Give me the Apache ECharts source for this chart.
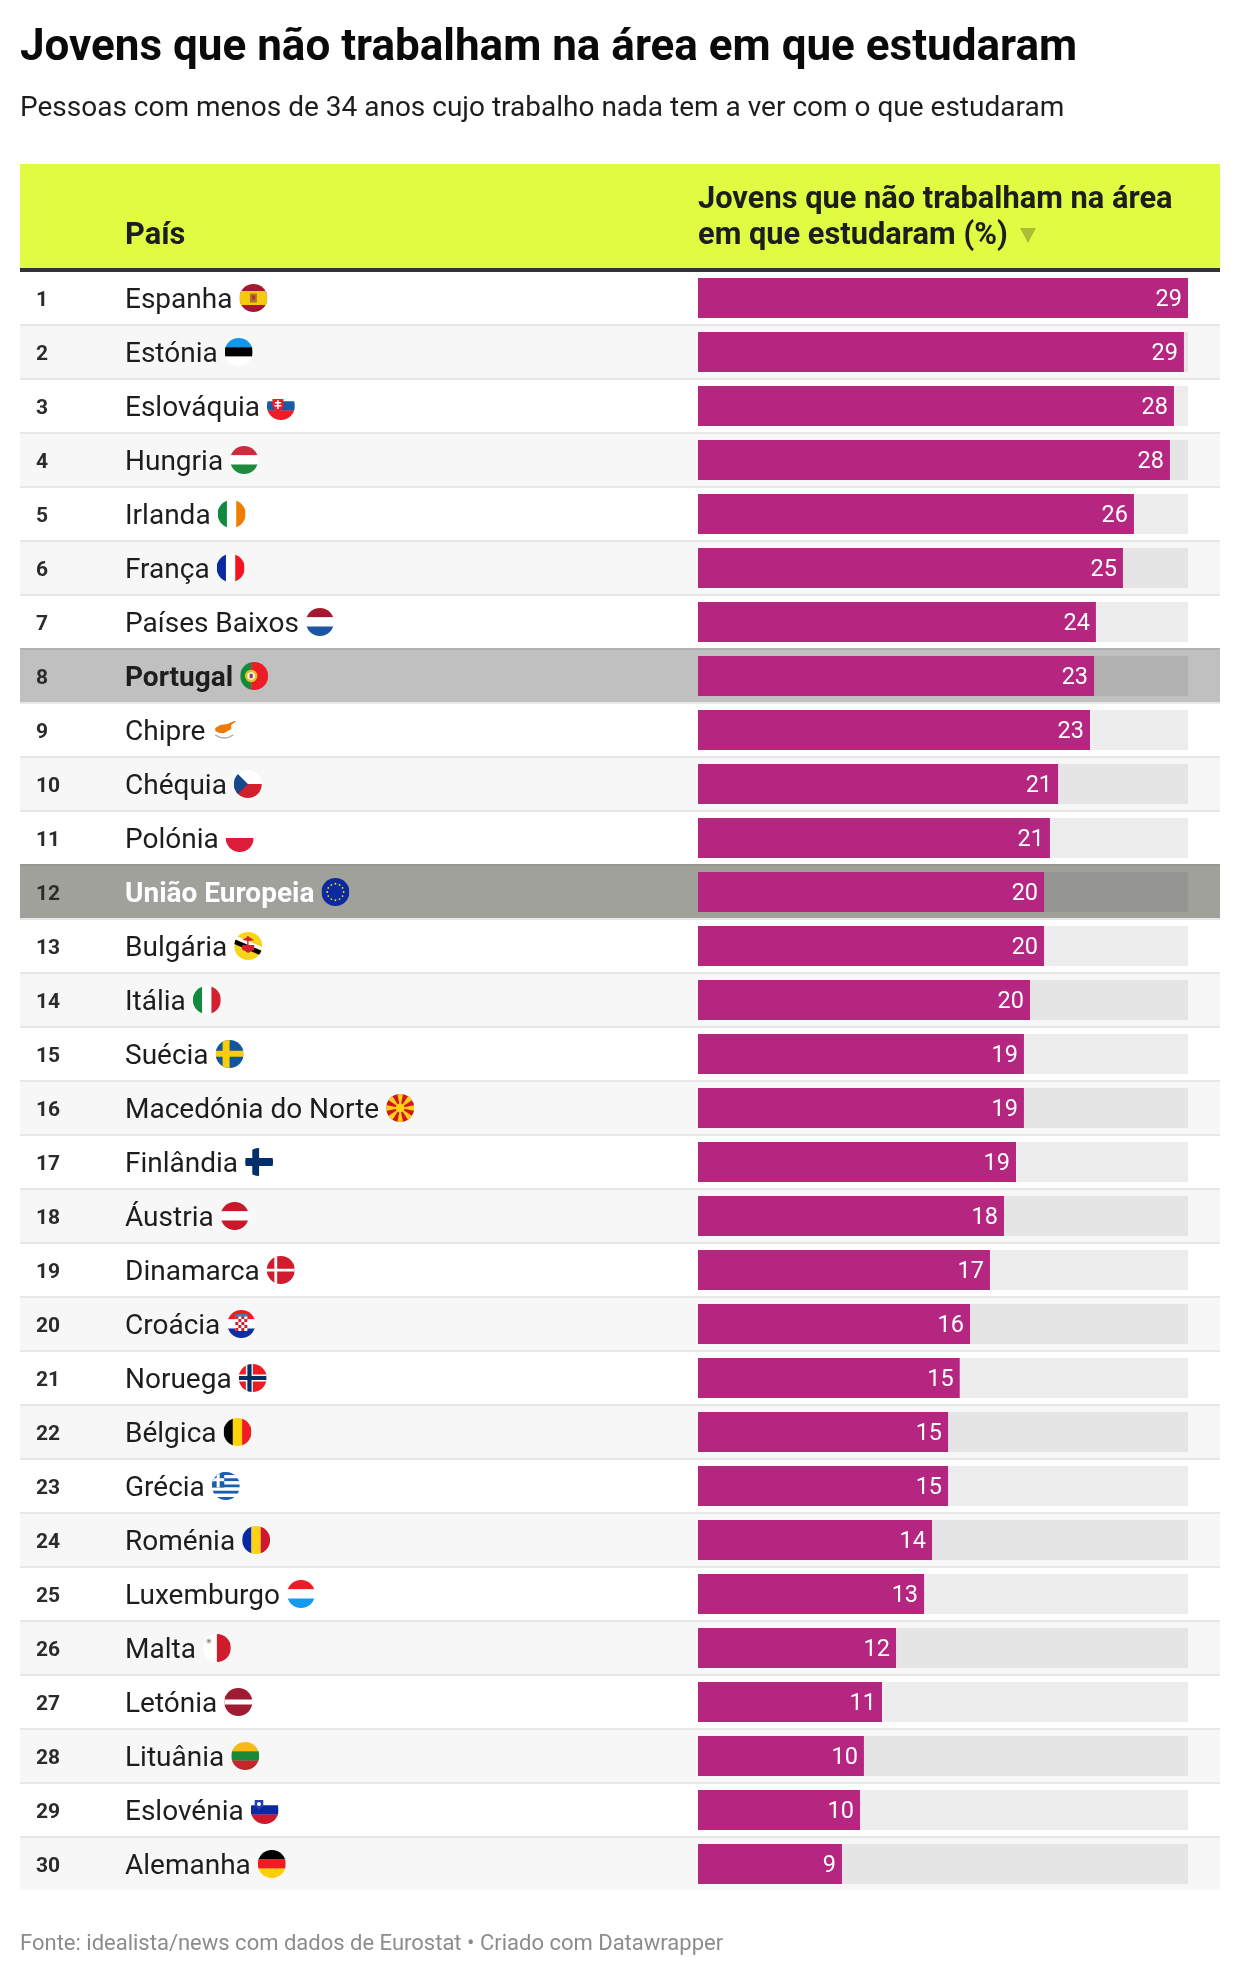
<!DOCTYPE html>
<html lang="pt">
<head>
<meta charset="utf-8">
<title>Jovens que não trabalham na área em que estudaram</title>
<style>html,body{margin:0;padding:0;background:#fff}#chart{width:1240px;height:1976px}</style>
<script src="https://cdn.jsdelivr.net/npm/echarts@6/dist/echarts.min.js"></script>
</head>
<body>
<div id="chart"></div>
<script>
const titleText = 'Jovens que não trabalham na área em que estudaram';
const subtitleText = 'Pessoas com menos de 34 anos cujo trabalho nada tem a ver com o que estudaram';
const footerText = 'Fonte: idealista/news com dados de Eurostat • Criado com Datawrapper';
const headerCountry = 'País';
const headerValue = ['Jovens que não trabalham na área', 'em que estudaram (%)'];

const countries = ['Espanha','Estónia','Eslováquia','Hungria','Irlanda','França','Países Baixos','Portugal','Chipre','Chéquia','Polónia','União Europeia','Bulgária','Itália','Suécia','Macedónia do Norte','Finlândia','Áustria','Dinamarca','Croácia','Noruega','Bélgica','Grécia','Roménia','Luxemburgo','Malta','Letónia','Lituânia','Eslovénia','Alemanha'];
const shares = [29.0,28.76,28.17,27.93,25.8,25.15,23.55,23.44,23.2,21.31,20.83,20.48,20.48,19.65,19.29,19.29,18.82,18.11,17.28,16.1,15.49,14.8,14.8,13.85,13.38,11.72,10.89,9.82,9.59,8.52];
const scaleMax = 29;

// --- small round flags, as inline SVG ---
const r = (x,y,w,h,c) => `<rect x="${x}" y="${y}" width="${w}" height="${h}" fill="${c}"/>`;
const p = (pts,c) => `<polygon points="${pts}" fill="${c}"/>`;
const H = (a,b,c) => r(0,0,28,9.4,a)+r(0,9.3,28,9.4,b)+r(0,18.6,28,9.4,c);
const V = (a,b,c) => r(0,0,9.4,28,a)+r(9.3,0,9.4,28,b)+r(18.6,0,9.4,28,c);
const W = '#ffffff';
function dots(){let s='';for(let i=0;i<12;i++){const a=i*Math.PI/6;s+=`<circle cx="${14+8.2*Math.cos(a)}" cy="${14+8.2*Math.sin(a)}" r="0.95" fill="#f7d417"/>`;}return s;}
function rays(){let s=r(0,0,28,28,'#d3141f');for(let i=0;i<8;i++){const a=i*Math.PI/4,d=0.2;
  s+=p(`14,14 ${14+20*Math.cos(a-d)},${14+20*Math.sin(a-d)} ${14+20*Math.cos(a+d)},${14+20*Math.sin(a+d)}`,'#fbd116');}
  return s+`<circle cx="14" cy="14" r="4.4" fill="#fbd116"/>`;}
function greek(){let s='';for(let i=0;i<9;i++)s+=r(0,i*28/9,28,28/9+0.05,i%2?W:'#1a5fae');
  return s+r(0,0,12.4,15.6,'#1a5fae')+r(4.8,0,3,15.6,W)+r(0,6.3,12.4,3,W);}
function checks(){let s=r(8,6,12,15,W);for(let y=0;y<5;y++)for(let x=0;x<4;x++)if((x+y)%2===0)s+=r(8+x*3,6+y*3,3,3,'#d3202f');
  return s+r(8,4,12,2.4,'#3a7cc0');}
const flags = [
  r(0,0,28,28,'#a5192e')+r(0,7,28,14,'#f6c80f')+r(10.5,9.5,7,9,'#a8792e')+r(12.3,11.5,3.4,4,'#b5322e'),
  H('#0f97ed','#000000',W),
  H(W,'#1b5aa5','#ee1c25')+r(5.5,7,11,8,'#ee1c25')+p('5.5,15 16.5,15 11,21','#ee1c25')+r(10.2,8,1.6,9,W)+r(8,10,6,1.4,W)+r(7.5,13,7,1.4,W),
  H('#cf2a3d',W,'#1f8a3c'),
  V('#118a3f',W,'#f07c00'),
  V('#0a2a9e',W,'#f2141f'),
  H('#a5192e',W,'#1a56a4'),
  r(0,0,11,28,'#118a3f')+r(11,0,17,28,'#ee1c25')+`<circle cx="11" cy="14" r="6.2" fill="#e4c21f"/>`+`<circle cx="11" cy="14" r="3.8" fill="${W}"/>`+r(9.4,11.8,3.2,4.4,'#c23a3a')+r(10.4,12.8,1.2,2.4,'#2456a8'),
  r(0,0,28,28,W)+p('3,12 8,9 15,8 22,5 24,5 19,9 19,13 12,17 7,17 3,15','#ee7b06')+`<path d="M3 19 Q12 25 21 19" fill="none" stroke="#a8a8a8" stroke-width="1.4"/>`,
  r(0,0,28,14,W)+r(0,14,28,14,'#d3202f')+p('0,0 14,14 0,28','#15498a'),
  r(0,0,28,14,W)+r(0,14,28,14,'#dc1c3a'),
  r(0,0,28,28,'#0a2a9e')+dots(),
  r(0,0,28,28,'#f7d417')+p('0,3 28,15 28,19 0,7',W)+p('0,7 28,19 28,24 0,12','#000000')+r(13,4,1.4,14,'#d3202f')+p('8,8 14,4.5 20,8 15,9','#d3202f')+r(8,13,12,5,'#d3202f')+p('9,18 19,18 14,21','#d3202f'),
  V('#118a3f',W,'#d3202f'),
  r(0,0,28,28,'#13569b')+r(7,0,7,28,'#fbcd06')+r(0,10.8,28,6,'#fbcd06'),
  rays(),
  r(0,0,28,28,W)+r(7.2,0,6.8,28,'#002f6c')+r(0,10,28,8,'#002f6c'),
  H('#c8182b',W,'#c8182b'),
  r(0,0,28,28,'#d01c2e')+r(7.6,0,2.8,28,W)+r(0,12.8,28,2.6,W),
  H('#ef1c24',W,'#0b2fa0')+checks(),
  r(0,0,28,28,'#ef1c24')+r(7.2,0,7,28,W)+r(0,10.4,28,7.2,W)+r(8.7,0,4.2,28,'#012e64')+r(0,12,28,4,'#012e64'),
  V('#000000','#fdd20a','#ef1c24'),
  greek(),
  V('#0a27a4','#fcd116','#d0182c'),
  H('#ee1c25',W,'#119cf0'),
  r(0,0,14,28,W)+r(14,0,14,28,'#cf1b2b')+`<circle cx="6" cy="7" r="2.6" fill="#cfc6c6"/><circle cx="6" cy="7" r="1.2" fill="#8b8b8b"/>`,
  r(0,0,28,28,'#9e1b32')+r(0,11.6,28,4.8,W),
  H('#fdb913','#1a8a38','#c1272d'),
  H(W,'#0a27a4','#d0182c')+p('4,4 12.6,4 12.6,10 8.3,13.5 4,10','#1f3fb0')+`<circle cx="8.3" cy="8" r="2" fill="${W}"/>`,
  H('#000000','#ef1c24','#ffce00')
];
const flagUrl = (m,i) => 'data:image/svg+xml;charset=utf-8,' + encodeURIComponent(
  `<svg xmlns="http://www.w3.org/2000/svg" width="112" height="112" viewBox="0 0 28 28"><defs><clipPath id="c${i}"><circle cx="14" cy="14" r="14"/></clipPath></defs><g clip-path="url(#c${i})">${m}</g></svg>`);

const PORTUGAL = countries.indexOf('Portugal');
const EU = countries.indexOf('União Europeia');
const FONT = 'Roboto';

const rich = {
  rank:{fontFamily:FONT,fontWeight:700,fontSize:21,color:'#2b2b2b',width:89,lineHeight:32,align:'left',padding:[5,0,0,0]},
  name:{fontFamily:FONT,fontSize:28,color:'#1d1d1d',lineHeight:32,padding:[5,7,0,0]},
  bold:{fontFamily:FONT,fontWeight:700,fontSize:28,color:'#1d1d1d',lineHeight:32,padding:[5,7,0,0]},
  white:{fontFamily:FONT,fontWeight:700,fontSize:28,color:'#ffffff',lineHeight:32,padding:[5,7,0,0]}
};
flags.forEach((m,i) => {
  rich['f'+i] = {width:28,height:28,lineHeight:32,backgroundColor:{image:flagUrl(m,i)}};
});

const rowFill = i => i===PORTUGAL ? '#c0c0c0' : i===EU ? '#a1a19c' : (i%2 ? '#f7f7f7' : '#ffffff');
const rowLine = i => i===PORTUGAL ? '#b1b1b1' : i===EU ? '#979791' : '#e7e7e7';

const chart = echarts.init(document.getElementById('chart'));
chart.setOption({
  animation:false,
  backgroundColor:'#ffffff',
  title:[
    {text:titleText,left:20,top:21,itemGap:0,padding:0,textStyle:{fontFamily:FONT,fontWeight:700,fontSize:44,lineHeight:56,color:'#0a0a0a'}},
    {text:subtitleText,left:20,top:91,padding:0,textStyle:{fontFamily:FONT,fontWeight:400,fontSize:28,lineHeight:36,color:'#1d1d1d'}},
    {text:footerText,left:20,top:1929,padding:0,textStyle:{fontFamily:FONT,fontWeight:400,fontSize:22,lineHeight:30,color:'#8c8c8c'}}
  ],
  grid:[
    {left:698,width:490,top:271,height:1620,containLabel:false},
    {left:20,width:1200,top:271,height:1620,containLabel:false}
  ],
  xAxis:[
    {gridIndex:0,type:'value',min:0,max:scaleMax,show:false},
    {gridIndex:1,type:'value',min:0,max:1,show:false}
  ],
  yAxis:[
    {gridIndex:0,type:'category',inverse:true,data:countries,show:false},
    {gridIndex:1,type:'category',inverse:true,data:countries,z:6,
      axisLine:{show:false},axisTick:{show:false},splitLine:{show:false},
      axisLabel:{show:true,inside:true,margin:16,interval:0,align:'left',rich,
        formatter:(v,i) => {
          const st = i===PORTUGAL ? 'bold' : i===EU ? 'white' : 'name';
          return `{rank|${i+1}}{${st}|${v}}{f${i}|}`;
        }}}
  ],
  graphic:[
    {type:'rect',z:20,shape:{x:20,y:164,width:1200,height:104},style:{fill:'#dffc42'}},
    {type:'rect',z:20,shape:{x:20,y:268,width:1200,height:4},style:{fill:'#333333'}},
    {type:'text',z:21,x:125,y:236,style:{text:headerCountry,fontFamily:FONT,fontWeight:700,fontSize:30.8,fill:'#1d1d1d',textVerticalAlign:'middle'}},
    {type:'text',z:21,x:698,y:200,style:{text:headerValue[0],fontFamily:FONT,fontWeight:700,fontSize:30.8,fill:'#1d1d1d',textVerticalAlign:'middle'}},
    {type:'text',z:21,x:698,y:236,style:{text:headerValue[1],fontFamily:FONT,fontWeight:700,fontSize:30.8,fill:'#1d1d1d',textVerticalAlign:'middle'}},
    {type:'polygon',z:21,shape:{points:[[1020,228],[1036,228],[1028,243]]},style:{fill:'#a9be35'}}
  ],
  series:[
    {type:'custom',xAxisIndex:1,yAxisIndex:1,z:1,silent:true,clip:false,data:countries.map((c,i)=>[0,i]),
      encode:{x:0,y:1},
      renderItem:(params,api) => {
        const i = params.dataIndex;
        const cy = api.coord([0,i])[1], h = api.size([0,1])[1];
        const x = params.coordSys.x, w = params.coordSys.width;
        return {type:'group',children:[
          {type:'rect',shape:{x,y:cy-h/2-1,width:w,height:h},style:{fill:rowFill(i)}},
          {type:'rect',shape:{x,y:cy-h/2-1,width:w,height:2},style:{fill:rowLine(i)}}
        ]};
      }},
    {type:'bar',xAxisIndex:0,yAxisIndex:0,z:2,data:shares,barWidth:40,silent:true,
      itemStyle:{color:'#b52680'},
      showBackground:true,backgroundStyle:{color:'rgba(0,0,0,0.07)'},
      label:{show:true,position:'insideRight',distance:6,offset:[0,2],fontFamily:FONT,fontSize:23.5,color:'#ffffff',
        formatter:d => String(Math.round(d.value))}}
  ]
});
</script>
</body>
</html>
